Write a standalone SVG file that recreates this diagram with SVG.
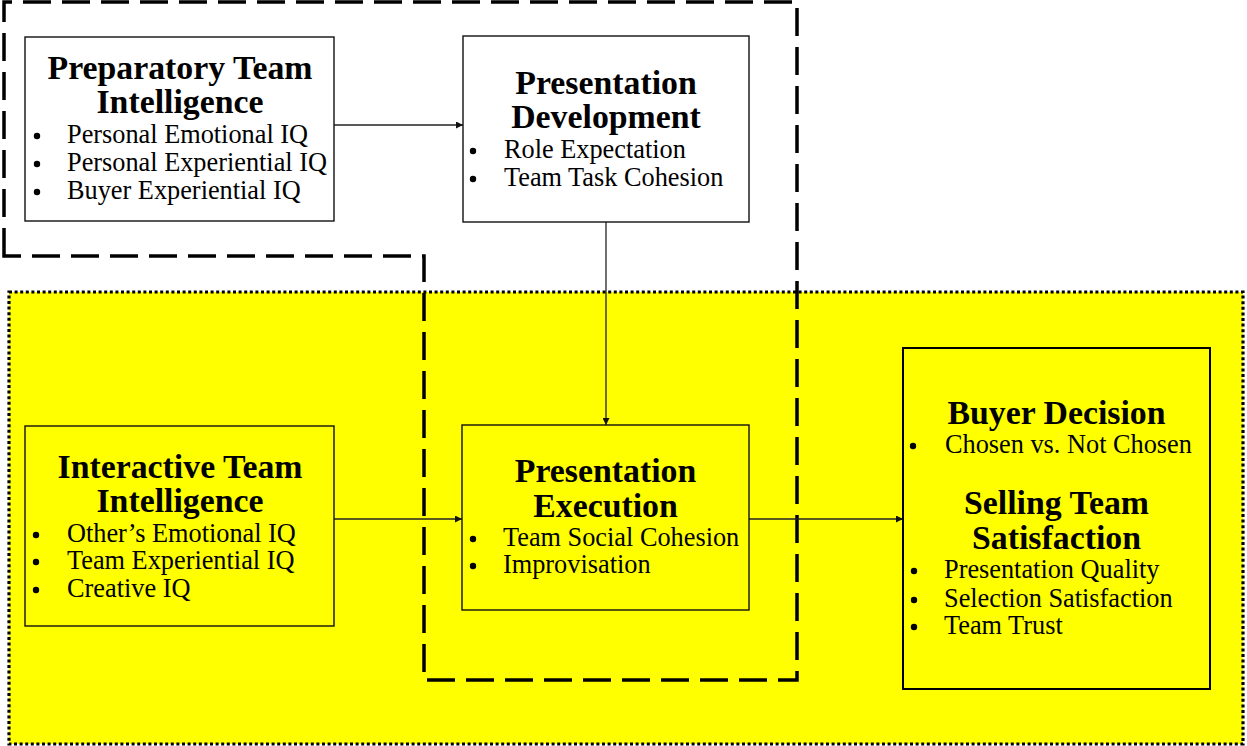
<svg xmlns="http://www.w3.org/2000/svg" width="1247" height="746" viewBox="0 0 1247 746">
<style>
.box{stroke:#111;stroke-width:1.4}
.title{font-family:"Liberation Serif","Times New Roman",serif;font-weight:bold;font-size:33.8px;fill:#000;text-anchor:middle}
.item{font-family:"Liberation Serif","Times New Roman",serif;font-size:26.3px;fill:#000}
.dot{fill:#000}
.conn{stroke:#222;stroke-width:1.3;fill:none;marker-end:url(#ah)}
</style>
<defs>
<marker id="ah" viewBox="0 0 10 10" refX="10" refY="5" markerWidth="7" markerHeight="7" markerUnits="userSpaceOnUse" orient="auto">
<path d="M0,0 L10,5 L0,10 z" fill="#111"/>
</marker>
</defs>
<rect width="1247" height="746" fill="#fff"/>
<g id="region-interactive">
<rect x="9" y="292" width="1234" height="452" fill="#FFFF00" stroke="#000" stroke-width="3.2" stroke-dasharray="3 2.6"/>
</g>
<g id="region-preparatory">
<path d="M4,256 L4,2 L797,2 L797,680 L424,680 L424,256 Z" fill="none" stroke="#000" stroke-width="3.5" stroke-dasharray="28 11"/>
</g>
<g id="connectors">
<line class="conn" x1="334" y1="125" x2="463" y2="125"/>
<line class="conn" x1="606" y1="222" x2="606" y2="425"/>
<line class="conn" x1="334" y1="519" x2="462" y2="519"/>
<line class="conn" x1="749" y1="519" x2="903" y2="519"/>
</g>
<g id="preparatory-team-intelligence">
<rect class="box" x="25" y="37" width="309" height="184" fill="#fff"/>
<text class="title" x="180" y="79">Preparatory Team</text>
<text class="title" x="180" y="113">Intelligence</text>
<circle class="dot" cx="37" cy="136" r="3.2"/>
<circle class="dot" cx="37" cy="164" r="3.2"/>
<circle class="dot" cx="37" cy="192" r="3.2"/>
<text class="item" x="67" y="143">Personal Emotional IQ</text>
<text class="item" x="67" y="171">Personal Experiential IQ</text>
<text class="item" x="67" y="199">Buyer Experiential IQ</text>
</g>
<g id="presentation-development">
<rect class="box" x="463" y="36" width="286" height="186" fill="#fff"/>
<text class="title" x="606" y="94">Presentation</text>
<text class="title" x="606" y="128">Development</text>
<circle class="dot" cx="473" cy="151" r="3.2"/>
<circle class="dot" cx="473" cy="179" r="3.2"/>
<text class="item" x="504" y="158">Role Expectation</text>
<text class="item" x="504" y="186">Team Task Cohesion</text>
</g>
<g id="interactive-team-intelligence">
<rect class="box" x="25" y="426" width="309" height="200" fill="#FFFF00"/>
<text class="title" x="180" y="478">Interactive Team</text>
<text class="title" x="180" y="512">Intelligence</text>
<circle class="dot" cx="36" cy="535" r="3.2"/>
<circle class="dot" cx="36" cy="562" r="3.2"/>
<circle class="dot" cx="36" cy="590" r="3.2"/>
<text class="item" x="67" y="542">Other’s Emotional IQ</text>
<text class="item" x="67" y="569">Team Experiential IQ</text>
<text class="item" x="67" y="597">Creative IQ</text>
</g>
<g id="presentation-execution">
<rect class="box" x="462" y="425" width="287" height="185" fill="#FFFF00"/>
<text class="title" x="605.5" y="482">Presentation</text>
<text class="title" x="605.5" y="517">Execution</text>
<circle class="dot" cx="473" cy="539" r="3.2"/>
<circle class="dot" cx="473" cy="566" r="3.2"/>
<text class="item" x="503" y="546">Team Social Cohesion</text>
<text class="item" x="503" y="573">Improvisation</text>
</g>
<g id="outcomes">
<rect x="903" y="348" width="307" height="341" fill="#FFFF00" stroke="#000" stroke-width="2"/>
<text class="title" x="1056.5" y="424">Buyer Decision</text>
<circle class="dot" cx="913" cy="446" r="3.2"/>
<text class="item" x="945" y="453">Chosen vs. Not Chosen</text>
<text class="title" x="1056.5" y="514">Selling Team</text>
<text class="title" x="1056.5" y="549">Satisfaction</text>
<circle class="dot" cx="914" cy="571" r="3.2"/>
<circle class="dot" cx="914" cy="600" r="3.2"/>
<circle class="dot" cx="914" cy="627" r="3.2"/>
<text class="item" x="944" y="578">Presentation Quality</text>
<text class="item" x="944" y="607">Selection Satisfaction</text>
<text class="item" x="944" y="634">Team Trust</text>
</g>
</svg>
